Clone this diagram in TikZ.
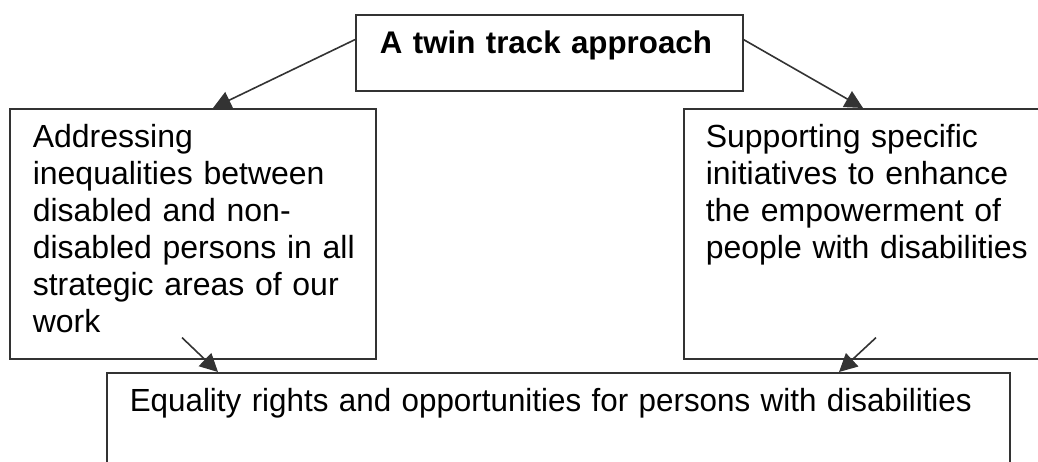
\documentclass[tikz,border=0pt]{standalone}
\usepackage{fontspec}
\setmainfont{Liberation Sans}
\usetikzlibrary{calc, arrows.meta}

\begin{document}
\begin{tikzpicture}[x=1pt,y=-1pt,
    box/.style={draw=black!80, line width=1.6pt, rectangle, anchor=north west, align=left,
      inner ysep=0pt, text height=39pt, font=\fontsize{32}{37}\selectfont},
    link/.style={draw=black!80, line width=1.6pt, -{Triangle[length=18pt,width=18pt]}}]
  \clip (0,0) rectangle (1038,461);
  % the four boxes
  \node[box, font=\bfseries\fontsize{31.3}{37}\selectfont, inner xsep=24pt, text width=339pt, text depth=37pt] (twin) at (355,14) {A twin track approach};
  \node[box, inner xsep=23pt, text width=320pt, text depth=211pt] (gaps) at (9,108)
    {Addressing\\ inequalities between\\ disabled and non-\\ \mbox{disabled persons in all}\\ \mbox{strategic areas of our}\\ work};
  \node[box, inner xsep=22pt, text width=340pt, text depth=211pt] (own) at (683,108)
    {Supporting specific\\ initiatives to enhance\\ the empowerment of\\ people with disabilities};
  \node[box, inner xsep=23pt, text width=857pt, text depth=120pt] (equal) at (106,372)
    {\scalebox{0.98}[1]{Equality rights and opportunities for persons with disabilities}};
  % arrows
  \draw[link] ($(twin.north west)!0.33!(twin.south west)$) -- ($(gaps.north west)+(204,0)$);
  \draw[link] ($(twin.north east)!0.33!(twin.south east)$) -- ($(own.north west)+(180,0)$);
  \draw[link] ($(gaps.south west)+(173,-22)$) -- ($(equal.north west)+(112,0)$);
  \draw[link] ($(own.south west)+(193,-22)$) -- ($(equal.north west)+(733,0)$);
\end{tikzpicture}
\end{document}
